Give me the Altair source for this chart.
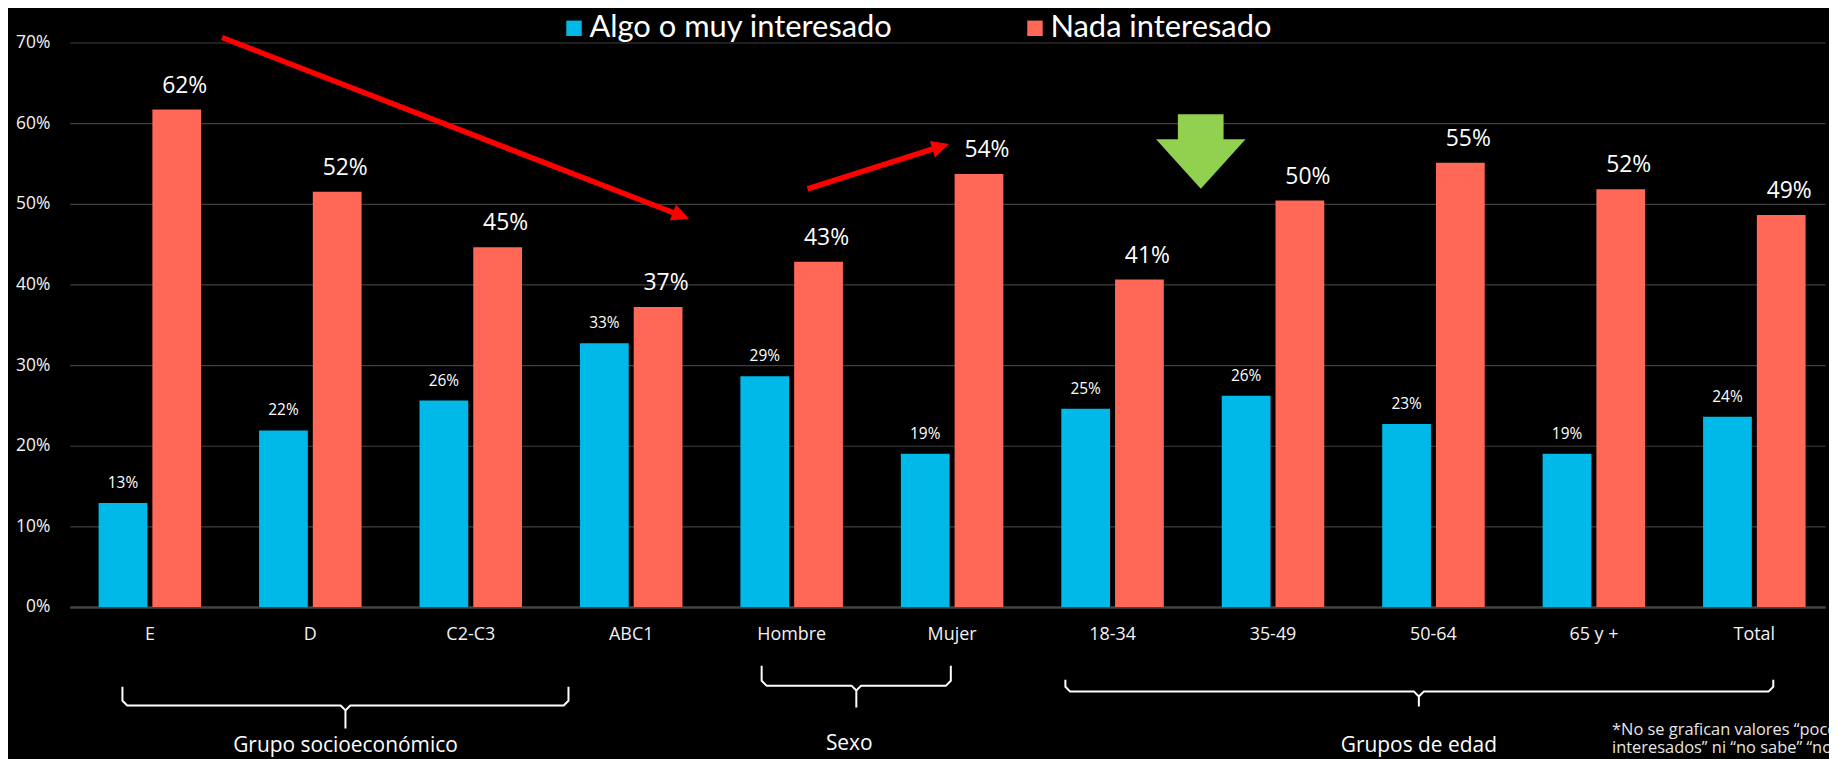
import altair as alt
import pandas as pd

# ---------------- data ----------------
categories = ["E", "D", "C2-C3", "ABC1", "Hombre", "Mujer", "18-34", "35-49", "50-64", "65 y +", "Total"]
series = ["Algo o muy interesado", "Nada interesado"]
interesado = [12.9, 21.9, 25.6, 32.7, 28.6, 19.0, 24.6, 26.2, 22.7, 19.0, 23.6]
nada = [61.7, 51.5, 44.6, 37.2, 42.8, 53.7, 40.6, 50.4, 55.1, 51.8, 48.6]
colors = ["#00B9E8", "#FF6757"]
y_ticks = [0, 10, 20, 30, 40, 50, 60, 70]

# annotation geometry, in data units (x: category index, y: percent)
group_names = ["Grupo socioeconómico", "Sexo", "Grupos de edad"]
brace_left = [-0.171, 3.813, 5.706]
brace_mid = [1.219, 4.403, 7.909]
brace_right = [2.609, 4.992, 10.118]
brace_top = [-9.88, -7.28, -9.01]
brace_bar = [-12.22, -9.75, -10.49]
brace_tip = [-15.06, -12.47, -12.35]
group_label_x = [1.219, 4.359, 7.909]
group_label_y = [-17.25, -17.0, -17.25]

arrow_x0 = [0.450, 4.099]
arrow_y0 = [70.62, 51.85]
arrow_x1 = [3.280, 4.897]
arrow_y1 = [48.77, 56.89]
arrow_tip_x = [3.360, 4.980]
arrow_tip_y = [48.15, 57.41]
arrow_angle = [111.2, 72.4]

green_shaft_x = [6.407, 6.692]
green_shaft_y = [61.1, 57.8]
green_head_x = [6.271, 6.550, 6.829]
green_head_top = [58.0, 58.0, 58.0]
green_head_bottom = [58.0, 51.85, 58.0]

footnote_lines = ["*No se grafican valores \u201cpoco", "interesados\u201d ni \u201cno sabe\u201d \u201cno responde\u201d"]
footnote_x = 9.113
footnote_y = [-15.3, -17.53]

# ---------------- layout ----------------
W, H = 1763, 567
PAD_L, PAD_T, PAD_R, PAD_B = 62, 33, 4, 151
P_IN, P_OUT, ALIGN = 0.361, 0.1505, 0.598
FONT = "Open Sans"
LEG_FONT = "Lato"

n = len(categories)
step = W / (n - P_IN + 2 * P_OUT)
first_center = ALIGN * (W - step * (n - P_IN)) + step * (1 - P_IN) / 2
u_domain = [-first_center / step, (W - first_center) / step]

# ---------------- tables ----------------
rows = []
for i, c in enumerate(categories):
    for s, v in zip(series, [interesado[i], nada[i]]):
        rows.append({"cat": c, "series": s, "value": v, "label": f"{round(v)}%"})
bars_df = pd.DataFrame(rows)

brace_rows = []
ru, rv = 0.03, 0.6
for g in range(len(group_names)):
    xl, xc, xr = brace_left[g], brace_mid[g], brace_right[g]
    top, bar, tip = brace_top[g], brace_bar[g], brace_tip[g]
    left = [(xl, top), (xl, bar + rv), (xl + ru, bar), (xc - ru, bar), (xc, bar - rv), (xc, tip)]
    right = [(xc, bar - rv), (xc + ru, bar), (xr - ru, bar), (xr, bar + rv), (xr, top)]
    for h, pts in enumerate([left, right]):
        for k, (x, y) in enumerate(pts):
            brace_rows.append({"seg": f"{g}-{h}", "ord": k, "u": x, "v": y})
brace_df = pd.DataFrame(brace_rows)

group_df = pd.DataFrame({"name": group_names, "u": group_label_x, "v": group_label_y})
arrow_df = pd.DataFrame({"u": arrow_x0, "v": arrow_y0, "u2": arrow_x1, "v2": arrow_y1})
tip_df = pd.DataFrame({"u": arrow_tip_x, "v": arrow_tip_y, "ang": arrow_angle})
shaft_df = pd.DataFrame({"u": [green_shaft_x[0]], "u2": [green_shaft_x[1]],
                         "v": [green_shaft_y[0]], "v2": [green_shaft_y[1]]})
head_df = pd.DataFrame({"u": green_head_x, "v": green_head_top, "v2": green_head_bottom})
foot_df = pd.DataFrame({"t": footnote_lines, "u": [footnote_x] * 2, "v": footnote_y})

# ---------------- scales ----------------
x_band = alt.Scale(type="band", domain=categories, paddingInner=P_IN, paddingOuter=P_OUT, align=ALIGN)
xoff = alt.Scale(type="band", domain=series, paddingInner=0.093, paddingOuter=0)
y_scale = alt.Scale(domain=[0, 70], nice=False, zero=False)
u_scale = alt.Scale(domain=u_domain, nice=False, zero=False)

bars = alt.Chart(bars_df).mark_bar().encode(
    x=alt.X("cat:N", scale=x_band, sort=categories,
            axis=alt.Axis(title=None, labelAngle=0, ticks=False, grid=False,
                          domainColor="#444444", domainWidth=2.5,
                          labelColor="#F2F2F2", labelFont=FONT, labelFontSize=18,
                          labelPadding=19)),
    xOffset=alt.XOffset("series:N", scale=xoff, sort=series),
    y=alt.Y("value:Q", scale=y_scale, title=None,
            axis=alt.Axis(title=None, values=y_ticks, labelExpr="datum.value + '%'",
                          grid=True, gridColor="#404040", gridWidth=1.2,
                          domain=False, ticks=False, labelPadding=20,
                          labelColor="#F2F2F2", labelFont=FONT, labelFontSize=17.5)),
    color=alt.Color("series:N", scale=alt.Scale(domain=series, range=colors),
                    legend=alt.Legend(orient="none", legendX=491, legendY=-30,
                                      direction="horizontal", title=None,
                                      symbolType="square", symbolSize=240,
                                      symbolStrokeWidth=0, symbolOpacity=1,
                                      labelFontSize=31, labelColor="white",
                                      labelFont=LEG_FONT, labelOffset=0, labelLimit=600,
                                      columnPadding=127, padding=0)),
)


def label_layer(s, size, dx, dy):
    return alt.Chart(bars_df).transform_filter(
        alt.datum.series == s
    ).mark_text(baseline="alphabetic", dx=dx, dy=dy, color="white", font=FONT, fontSize=size).encode(
        x=alt.X("cat:N", scale=x_band, sort=categories, axis=None),
        xOffset=alt.XOffset("series:N", scale=xoff, sort=series),
        y=alt.Y("value:Q", scale=y_scale, title=None),
        text="label:N",
    )


labels_blue = label_layer(series[0], 15.5, 0, -15)
labels_red = label_layer(series[1], 23, 8, -17)


def qx(field="u"):
    return alt.X(f"{field}:Q", scale=u_scale, axis=None)


def qy(field="v"):
    return alt.Y(f"{field}:Q", scale=y_scale, title=None)


braces = alt.Chart(brace_df).mark_line(color="white", strokeWidth=2, strokeJoin="round").encode(
    x=qx(), y=qy(), detail="seg:N", order="ord:Q",
)

group_text = alt.Chart(group_df).mark_text(color="white", font=FONT, fontSize=21, baseline="middle").encode(
    x=qx(), y=qy(), text="name:N",
)

arrows = alt.Chart(arrow_df).mark_rule(color="#FF0000", strokeWidth=5.5, strokeCap="butt").encode(
    x=qx(), x2="u2:Q", y=qy(), y2="v2:Q",
)

tips = alt.Chart(tip_df).mark_point(shape="M0,0L1,2L-1,2Z", filled=True, color="#FF0000",
                                    opacity=1, size=300, strokeWidth=0).encode(
    x=qx(), y=qy(), angle=alt.Angle("ang:Q", scale=None),
)

shaft = alt.Chart(shaft_df).mark_rect(color="#92D050").encode(
    x=qx(), x2="u2:Q", y=qy(), y2="v2:Q",
)

head = alt.Chart(head_df).mark_area(color="#92D050", opacity=1).encode(
    x=qx(), y=qy(), y2="v2:Q",
)

foot = alt.Chart(foot_df).mark_text(color="#E6E6E6", font=FONT, fontSize=16.5, align="left",
                                    baseline="middle").encode(
    x=qx(), y=qy(), text="t:N",
)

chart = alt.layer(
    bars, labels_blue, labels_red, braces, group_text, arrows, tips, shaft, head, foot
).resolve_scale(
    x="independent", xOffset="independent"
).properties(
    width=W, height=H,
    autosize=alt.AutoSizeParams(type="none"),
    padding={"left": PAD_L, "top": PAD_T, "right": PAD_R, "bottom": PAD_B},
    background="black",
).configure_view(stroke=None)

chart.save("out.html", embed_options={"renderer": "svg", "actions": False})
